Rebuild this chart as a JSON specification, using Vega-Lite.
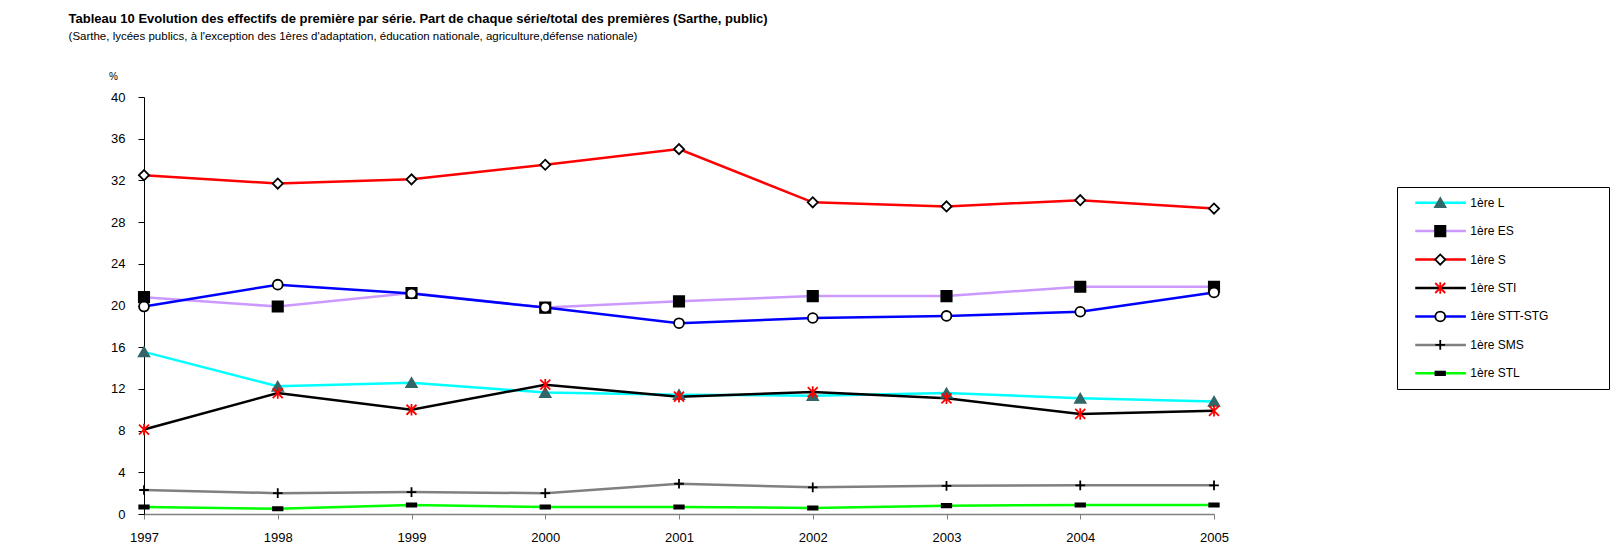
{
  "$schema": "https://vega.github.io/schema/vega-lite/v6.json",
  "padding": {"left": 68, "top": 12, "right": 0, "bottom": 0},
  "config": {"font": "Liberation Sans", "view": {"stroke": null}},
  "title": {
    "text": "Tableau 10  Evolution des effectifs de première par série. Part de chaque série/total des premières (Sarthe, public)",
    "subtitle": "(Sarthe, lycées publics, à  l'exception des 1ères d'adaptation, éducation nationale, agriculture,défense nationale)",
    "anchor": "start",
    "frame": "bounds",
    "dx": -40,
    "fontSize": 13,
    "fontWeight": "bold",
    "color": "#000000",
    "subtitleFontSize": 11.5,
    "subtitleColor": "#000000",
    "subtitlePadding": 5,
    "offset": 29
  },
  "datasets": {
    "d": [
      {"serie": "1ère L", "annee": 1997, "pct": 15.55},
      {"serie": "1ère L", "annee": 1998, "pct": 12.25},
      {"serie": "1ère L", "annee": 1999, "pct": 12.6},
      {"serie": "1ère L", "annee": 2000, "pct": 11.65},
      {"serie": "1ère L", "annee": 2001, "pct": 11.45},
      {"serie": "1ère L", "annee": 2002, "pct": 11.35},
      {"serie": "1ère L", "annee": 2003, "pct": 11.6},
      {"serie": "1ère L", "annee": 2004, "pct": 11.1},
      {"serie": "1ère L", "annee": 2005, "pct": 10.8},
      {"serie": "1ère ES", "annee": 1997, "pct": 20.8},
      {"serie": "1ère ES", "annee": 1998, "pct": 19.9},
      {"serie": "1ère ES", "annee": 1999, "pct": 21.2},
      {"serie": "1ère ES", "annee": 2000, "pct": 19.8},
      {"serie": "1ère ES", "annee": 2001, "pct": 20.4},
      {"serie": "1ère ES", "annee": 2002, "pct": 20.9},
      {"serie": "1ère ES", "annee": 2003, "pct": 20.9},
      {"serie": "1ère ES", "annee": 2004, "pct": 21.8},
      {"serie": "1ère ES", "annee": 2005, "pct": 21.8},
      {"serie": "1ère S", "annee": 1997, "pct": 32.5},
      {"serie": "1ère S", "annee": 1998, "pct": 31.7},
      {"serie": "1ère S", "annee": 1999, "pct": 32.1},
      {"serie": "1ère S", "annee": 2000, "pct": 33.5},
      {"serie": "1ère S", "annee": 2001, "pct": 35.0},
      {"serie": "1ère S", "annee": 2002, "pct": 29.9},
      {"serie": "1ère S", "annee": 2003, "pct": 29.5},
      {"serie": "1ère S", "annee": 2004, "pct": 30.1},
      {"serie": "1ère S", "annee": 2005, "pct": 29.3},
      {"serie": "1ère STI", "annee": 1997, "pct": 8.1},
      {"serie": "1ère STI", "annee": 1998, "pct": 11.6},
      {"serie": "1ère STI", "annee": 1999, "pct": 10.0},
      {"serie": "1ère STI", "annee": 2000, "pct": 12.4},
      {"serie": "1ère STI", "annee": 2001, "pct": 11.25},
      {"serie": "1ère STI", "annee": 2002, "pct": 11.7},
      {"serie": "1ère STI", "annee": 2003, "pct": 11.1},
      {"serie": "1ère STI", "annee": 2004, "pct": 9.6},
      {"serie": "1ère STI", "annee": 2005, "pct": 9.9},
      {"serie": "1ère STT-STG", "annee": 1997, "pct": 19.9},
      {"serie": "1ère STT-STG", "annee": 1998, "pct": 22.0},
      {"serie": "1ère STT-STG", "annee": 1999, "pct": 21.15},
      {"serie": "1ère STT-STG", "annee": 2000, "pct": 19.8},
      {"serie": "1ère STT-STG", "annee": 2001, "pct": 18.3},
      {"serie": "1ère STT-STG", "annee": 2002, "pct": 18.8},
      {"serie": "1ère STT-STG", "annee": 2003, "pct": 19.0},
      {"serie": "1ère STT-STG", "annee": 2004, "pct": 19.4},
      {"serie": "1ère STT-STG", "annee": 2005, "pct": 21.25},
      {"serie": "1ère SMS", "annee": 1997, "pct": 2.3},
      {"serie": "1ère SMS", "annee": 1998, "pct": 2.0},
      {"serie": "1ère SMS", "annee": 1999, "pct": 2.1},
      {"serie": "1ère SMS", "annee": 2000, "pct": 2.0},
      {"serie": "1ère SMS", "annee": 2001, "pct": 2.9},
      {"serie": "1ère SMS", "annee": 2002, "pct": 2.56},
      {"serie": "1ère SMS", "annee": 2003, "pct": 2.7},
      {"serie": "1ère SMS", "annee": 2004, "pct": 2.75},
      {"serie": "1ère SMS", "annee": 2005, "pct": 2.75},
      {"serie": "1ère STL", "annee": 1997, "pct": 0.67},
      {"serie": "1ère STL", "annee": 1998, "pct": 0.5},
      {"serie": "1ère STL", "annee": 1999, "pct": 0.86},
      {"serie": "1ère STL", "annee": 2000, "pct": 0.67},
      {"serie": "1ère STL", "annee": 2001, "pct": 0.67},
      {"serie": "1ère STL", "annee": 2002, "pct": 0.58},
      {"serie": "1ère STL", "annee": 2003, "pct": 0.8},
      {"serie": "1ère STL", "annee": 2004, "pct": 0.86},
      {"serie": "1ère STL", "annee": 2005, "pct": 0.86}
    ]
  },
  "hconcat": [
    {
      "width": 1070,
      "height": 417,
      "data": {"name": "d"},
      "encoding": {
        "x": {
          "field": "annee", "type": "quantitative",
          "scale": {"domain": [1997, 2005], "nice": false, "zero": false},
          "axis": {
            "title": null, "values": [1997, 1998, 1999, 2000, 2001, 2002, 2003, 2004, 2005],
            "format": "d", "grid": false, "labelFlush": false, "labelOverlap": false,
            "domainColor": "#808080", "domainWidth": 1.5,
            "tickColor": "#808080", "tickSize": 5, "tickWidth": 1,
            "labelFontSize": 13, "labelColor": "#000000", "labelPadding": 12
          }
        },
        "y": {
          "field": "pct", "type": "quantitative",
          "scale": {"domain": [0, 40], "nice": false},
          "axis": {
            "title": "%", "titleAngle": 0, "titleFontSize": 10, "titleFontWeight": "normal",
            "titleColor": "#000000", "titleX": -31, "titleY": -21,
            "titleAlign": "center", "titleBaseline": "middle",
            "values": [0, 4, 8, 12, 16, 20, 24, 28, 32, 36, 40], "grid": false,
            "labelFlush": false, "labelOverlap": false,
            "domainColor": "#000000", "domainWidth": 1,
            "tickColor": "#000000", "tickSize": 6, "tickWidth": 1,
            "labelFontSize": 13, "labelColor": "#000000", "labelPadding": 13
          }
        }
      },
      "layer": [
        {
          "mark": {"type": "line", "strokeWidth": 2.5},
          "encoding": {
            "color": {
              "field": "serie", "type": "nominal", "legend": null,
              "scale": {
                "domain": ["1ère L", "1ère ES", "1ère S", "1ère STI", "1ère STT-STG", "1ère SMS", "1ère STL"],
                "range": ["#00FFFF", "#CC99FF", "#FF0000", "#000000", "#0000FF", "#808080", "#00FF00"]
              }
            }
          }
        },
        {
          "mark": {"type": "point", "filled": false, "opacity": 1, "strokeWidth": 1.8},
          "encoding": {
            "shape": {
              "field": "serie", "type": "nominal", "legend": null,
              "scale": {
                "domain": ["1ère L", "1ère ES", "1ère S", "1ère STI", "1ère STT-STG", "1ère SMS", "1ère STL"],
                "range": ["triangle-up", "square", "diamond", "M-1,-1L1,1M-1,1L1,-1M0,-1.15L0,1.15", "circle", "M-1,0L1,0M0,-1L0,1", "M-1,-0.35L1,-0.35L1,0.35L-1,0.35Z"]
              }
            },
            "fill": {
              "field": "serie", "type": "nominal", "legend": null,
              "scale": {
                "domain": ["1ère L", "1ère ES", "1ère S", "1ère STI", "1ère STT-STG", "1ère SMS", "1ère STL"],
                "range": ["#336666", "#000000", "#FFFFFF", "transparent", "#FFFFFF", "transparent", "#000000"]
              }
            },
            "stroke": {
              "field": "serie", "type": "nominal", "legend": null,
              "scale": {
                "domain": ["1ère L", "1ère ES", "1ère S", "1ère STI", "1ère STT-STG", "1ère SMS", "1ère STL"],
                "range": ["#336666", "#000000", "#000000", "#FF0000", "#000000", "#000000", "#000000"]
              }
            },
            "size": {
              "field": "serie", "type": "nominal", "legend": null,
              "scale": {
                "domain": ["1ère L", "1ère ES", "1ère S", "1ère STI", "1ère STT-STG", "1ère SMS", "1ère STL"],
                "range": [110, 90, 56, 90, 70, 90, 110]
              }
            }
          }
        }
      ]
    },
    {
      "spacing": 0,
      "vconcat": [
        {
          "width": 212,
          "height": 89,
          "data": {"values": [{}]},
          "mark": {"type": "point", "opacity": 0}
        },
        {
          "width": 212,
          "height": 202,
          "view": {"stroke": "#000000", "strokeWidth": 1},
          "data": {"name": "d"},
          "transform": [{"filter": "datum.annee == 1997"}],
          "encoding": {
            "y": {
              "field": "serie", "type": "nominal", "axis": null,
              "sort": ["1ère L", "1ère ES", "1ère S", "1ère STI", "1ère STT-STG", "1ère SMS", "1ère STL"],
              "scale": {"type": "point", "padding": 0.55}
            }
          },
          "layer": [
            {
              "mark": {"type": "rule", "strokeWidth": 2.5},
              "encoding": {
                "x": {"datum": 0.086, "type": "quantitative", "scale": {"domain": [0, 1], "nice": false, "zero": false}, "axis": null},
                "x2": {"datum": 0.325},
                "color": {
                  "field": "serie", "type": "nominal", "legend": null,
                  "scale": {
                    "domain": ["1ère L", "1ère ES", "1ère S", "1ère STI", "1ère STT-STG", "1ère SMS", "1ère STL"],
                    "range": ["#00FFFF", "#CC99FF", "#FF0000", "#000000", "#0000FF", "#808080", "#00FF00"]
                  }
                }
              }
            },
            {
              "mark": {"type": "point", "filled": false, "opacity": 1, "strokeWidth": 1.8},
              "encoding": {
                "x": {"datum": 0.204, "type": "quantitative"},
                "shape": {
                  "field": "serie", "type": "nominal", "legend": null,
                  "scale": {
                    "domain": ["1ère L", "1ère ES", "1ère S", "1ère STI", "1ère STT-STG", "1ère SMS", "1ère STL"],
                    "range": ["triangle-up", "square", "diamond", "M-1,-1L1,1M-1,1L1,-1M0,-1.15L0,1.15", "circle", "M-1,0L1,0M0,-1L0,1", "M-1,-0.35L1,-0.35L1,0.35L-1,0.35Z"]
                  }
                },
                "fill": {
                  "field": "serie", "type": "nominal", "legend": null,
                  "scale": {
                    "domain": ["1ère L", "1ère ES", "1ère S", "1ère STI", "1ère STT-STG", "1ère SMS", "1ère STL"],
                    "range": ["#336666", "#000000", "#FFFFFF", "transparent", "#FFFFFF", "transparent", "#000000"]
                  }
                },
                "stroke": {
                  "field": "serie", "type": "nominal", "legend": null,
                  "scale": {
                    "domain": ["1ère L", "1ère ES", "1ère S", "1ère STI", "1ère STT-STG", "1ère SMS", "1ère STL"],
                    "range": ["#336666", "#000000", "#000000", "#FF0000", "#000000", "#000000", "#000000"]
                  }
                },
                "size": {
                  "field": "serie", "type": "nominal", "legend": null,
                  "scale": {
                    "domain": ["1ère L", "1ère ES", "1ère S", "1ère STI", "1ère STT-STG", "1ère SMS", "1ère STL"],
                    "range": [110, 90, 56, 90, 70, 90, 110]
                  }
                }
              }
            },
            {
              "mark": {"type": "text", "align": "left", "baseline": "middle", "fontSize": 12, "color": "#000000"},
              "encoding": {
                "x": {"datum": 0.346, "type": "quantitative"},
                "text": {"field": "serie"}
              }
            }
          ]
        }
      ]
    }
  ],
  "spacing": 167
}
